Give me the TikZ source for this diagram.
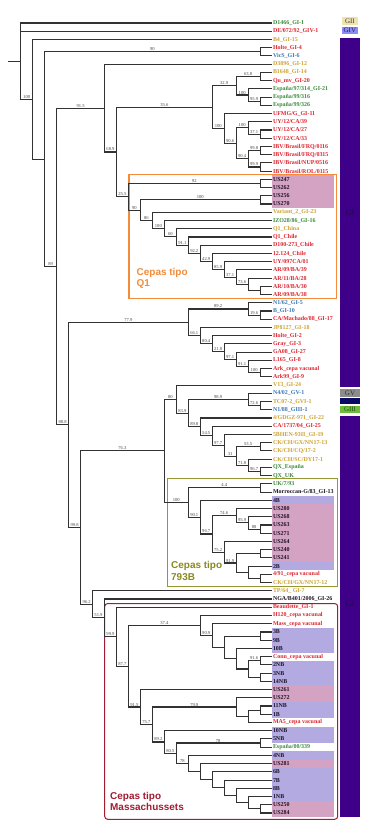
\documentclass[tikz,border=0pt]{standalone}
\usepackage{fontspec}
\setmainfont{Liberation Serif}
\newfontfamily\sansfam{Liberation Sans}
\usetikzlibrary{calc}
\definecolor{cred}{RGB}{222,36,46}
\definecolor{cgreen}{RGB}{58,138,58}
\definecolor{cyel}{RGB}{204,162,48}
\definecolor{cblue}{RGB}{58,118,182}
\definecolor{cblk}{RGB}{28,20,38}
\definecolor{pinkhl}{RGB}{212,162,194}
\definecolor{lavhl}{RGB}{178,170,224}
\definecolor{purplebar}{RGB}{62,0,136}
\definecolor{corange}{RGB}{242,140,58}
\definecolor{colive}{RGB}{150,150,50}
\definecolor{colivetxt}{RGB}{138,136,30}
\definecolor{cmass}{RGB}{162,28,50}
\definecolor{brcol}{RGB}{50,50,50}
\definecolor{bscol}{RGB}{70,70,70}
\definecolor{giibg}{RGB}{238,228,178}
\definecolor{givbg}{RGB}{140,140,240}
\definecolor{gvbg}{RGB}{140,140,140}
\definecolor{gvibg}{RGB}{10,10,100}
\definecolor{giiibg}{RGB}{110,190,60}
\definecolor{gitxt}{RGB}{32,10,72}
\tikzset{
  br/.style={draw=brcol,line width=1.1bp},
  bsl/.style={pos=.75,anchor=south,inner sep=0.4pt,text=bscol,font=\fontsize{4.6}{5}\selectfont},
  lab/.style={anchor=west,inner sep=0pt,font=\bfseries\fontsize{6}{7}\selectfont},
  cepas/.style={anchor=west,align=left,inner sep=0pt,font=\sansfam\bfseries\fontsize{10}{11.5}\selectfont},
  gbox/.style={inner sep=0pt,font=\fontsize{7}{7}\selectfont}
}
\newcounter{bsc}
\newcommand\inode[6]{%
  \coordinate (tmp) at ($(#3)!.5!(#5)$);
  \coordinate (#1) at (X#2 |- tmp);
  \stepcounter{bsc}%
  \draw[br] (#1) |- node[bsl] (b\arabic{bsc}) {#4} (#3);
  \stepcounter{bsc}%
  \draw[br] (#1) |- node[bsl] (b\arabic{bsc}) {#6} (#5);
}
\newcommand\leaf[3]{%
  \coordinate (L#1) at (272,{23+8.229*(#1-1)});
  \node[lab,text=#2] (T#1) at (272.8,{23+8.229*(#1-1)}) {#3};
}
\newcommand\hl[3]{\fill[#1] (271.7,{23+8.229*(#2-1)-4.115}) rectangle (334.3,{23+8.229*(#3-1)+4.115});}
\begin{document}
\begin{tikzpicture}[x=1bp,y=-1bp]
\useasboundingbox (0,0) rectangle (380,837);
\fill[white] (0,0) rectangle (380,837);
% highlights
\hl{pinkhl}{20}{23}
\hl{lavhl}{59}{59}
\hl{pinkhl}{60}{66}
\hl{lavhl}{67}{67}
\hl{lavhl}{75}{77}
\hl{lavhl}{79}{81}
\hl{pinkhl}{82}{83}
\hl{lavhl}{84}{85}
\hl{lavhl}{87}{88}
\hl{lavhl}{90}{90}
\hl{pinkhl}{91}{91}
\hl{lavhl}{92}{95}
\hl{pinkhl}{96}{97}
% clade boxes
\draw[corange,line width=1.1bp] (129,174.3) rectangle (336.7,298.3);
\draw[colive,line width=1bp] (167.3,478.3) rectangle (337.7,586.7);
\draw[cmass,line width=1bp,rounded corners=3bp] (104.7,603.5) rectangle (337.7,819.3);
% level positions
\foreach \k in {0,...,20} {\coordinate (X\k) at ({20.7+11.97*\k},0);}
% leaves
\leaf{1}{cgreen}{D1466\_GI-1}
\leaf{2}{cred}{DE/072/92\_GIV-1}
\leaf{3}{cyel}{B4\_GI-15}
\leaf{4}{cred}{Holte\_GI-4}
\leaf{5}{cblue}{VicS\_GI-6}
\leaf{6}{cyel}{D3896\_GI-12}
\leaf{7}{cyel}{B1648\_GI-14}
\leaf{8}{cred}{Qu\_mv\_GI-20}
\leaf{9}{cgreen}{España/97/314\_GI-21}
\leaf{10}{cgreen}{España/99/316}
\leaf{11}{cgreen}{España/99/326}
\leaf{12}{cred}{UFMG/G\_GI-11}
\leaf{13}{cred}{UY/12/CA/39}
\leaf{14}{cred}{UY/12/CA/27}
\leaf{15}{cred}{UY/12/CA/33}
\leaf{16}{cred}{IBV/Brasil/FRQ/0116}
\leaf{17}{cred}{IBV/Brasil/FRQ/0315}
\leaf{18}{cred}{IBV/Brasil/NUP/0516}
\leaf{19}{cred}{IBV/Brasil/ROL/0115}
\leaf{20}{cblk}{US247}
\leaf{21}{cblk}{US262}
\leaf{22}{cblk}{US256}
\leaf{23}{cblk}{US270}
\leaf{24}{cyel}{Variant\_2\_GI-23}
\leaf{25}{cgreen}{IZO28/86\_GI-16}
\leaf{26}{cyel}{Q1\_China}
\leaf{27}{cred}{Q1\_Chile}
\leaf{28}{cred}{D100-273\_Chile}
\leaf{29}{cred}{12.124\_Chile}
\leaf{30}{cred}{UY/097CA/01}
\leaf{31}{cred}{AR/09/BA/39}
\leaf{32}{cred}{AR/11/BA/28}
\leaf{33}{cred}{AR/10/BA/30}
\leaf{34}{cred}{AR/09/BA/38}
\leaf{35}{cblue}{N1/62\_GI-5}
\leaf{36}{cblue}{B\_GI-10}
\leaf{37}{cred}{CA/Machado/88\_GI-17}
\leaf{38}{cyel}{JP8127\_GI-18}
\leaf{39}{cred}{Holte\_GI-2}
\leaf{40}{cred}{Gray\_GI-3}
\leaf{41}{cred}{GA08\_GI-27}
\leaf{42}{cred}{L165\_GI-8}
\leaf{43}{cred}{Ark\_cepa vacunal}
\leaf{44}{cred}{Ark99\_GI-9}
\leaf{45}{cyel}{V13\_GI-24}
\leaf{46}{cblue}{N4/02\_GV-1}
\leaf{47}{cyel}{TC07-2\_GVI-1}
\leaf{48}{cblue}{N1/88\_GIII-1}
\leaf{49}{cyel}{4/GDGZ-971\_GI-22}
\leaf{50}{cred}{CA/1737/04\_GI-25}
\leaf{51}{cyel}{5BHEN-93II\_GI-19}
\leaf{52}{cyel}{CK/CH/GX/NN17-13}
\leaf{53}{cyel}{CK/CH/CQ/17-2}
\leaf{54}{cyel}{CK/CH/SC/DY17-1}
\leaf{55}{cgreen}{QX\_España}
\leaf{56}{cgreen}{QX\_UK}
\leaf{57}{cgreen}{UK/7/93}
\leaf{58}{cblk}{Morroccan-G/83\_GI-13}
\leaf{59}{cblk}{4B}
\leaf{60}{cblk}{US280}
\leaf{61}{cblk}{US268}
\leaf{62}{cblk}{US263}
\leaf{63}{cblk}{US271}
\leaf{64}{cblk}{US264}
\leaf{65}{cblk}{US240}
\leaf{66}{cblk}{US241}
\leaf{67}{cblk}{2B}
\leaf{68}{cred}{4/91\_cepa vacunal}
\leaf{69}{cyel}{CK/CH/GX/NN17-12}
\leaf{70}{cyel}{TP/64\_ GI-7}
\leaf{71}{cblk}{NGA/B401/2006\_GI-26}
\leaf{72}{cred}{Beaudette\_GI-1}
\leaf{73}{cred}{H120\_cepa vacunal}
\leaf{74}{cred}{Mass\_cepa vacunal}
\leaf{75}{cblk}{3B}
\leaf{76}{cblk}{9B}
\leaf{77}{cblk}{10B}
\leaf{78}{cred}{Conn\_cepa vacunal}
\leaf{79}{cblk}{2NB}
\leaf{80}{cblk}{3NB}
\leaf{81}{cblk}{14NB}
\leaf{82}{cblk}{US261}
\leaf{83}{cblk}{US272}
\leaf{84}{cblk}{11NB}
\leaf{85}{cblk}{1B}
\leaf{86}{cred}{MA5\_cepa vacunal}
\leaf{87}{cblk}{10NB}
\leaf{88}{cblk}{5NB}
\leaf{89}{cgreen}{España/00/339}
\leaf{90}{cblk}{4NB}
\leaf{91}{cblk}{US281}
\leaf{92}{cblk}{6B}
\leaf{93}{cblk}{7B}
\leaf{94}{cblk}{8B}
\leaf{95}{cblk}{1NB}
\leaf{96}{cblk}{US250}
\leaf{97}{cblk}{US284}
% ---- top clade
\inode{p45}{20}{L4}{}{L5}{}
\inode{p78}{20}{L7}{}{L8}{}
\inode{p1011}{20}{L10}{}{L11}{}
\inode{nEsp}{19}{L9}{}{p1011}{95.9}
\inode{n329}{18}{p78}{63.8}{nEsp}{100}
\inode{p1415}{20}{L14}{}{L15}{}
\inode{nM}{19}{L13}{}{p1415}{37.1}
\inode{p1617}{20}{L16}{}{L17}{}
\inode{p1819}{20}{L18}{}{L19}{}
\inode{nN}{19}{p1617}{99.8}{p1819}{99.9}
\inode{nL}{18}{nM}{100}{nN}{90.4}
\inode{nK}{17}{L12}{}{nL}{90.6}
\inode{nJ}{16}{n329}{32.9}{nK}{100}
% ---- Q1 clade
\inode{p2021}{20}{L20}{}{L21}{}
\inode{p2223}{20}{L22}{}{L23}{}
\inode{p3334}{20}{L33}{}{L34}{}
\inode{n736}{19}{L32}{}{p3334}{}
\inode{n371}{18}{L31}{}{n736}{73.6}
\inode{n859}{17}{L30}{}{n371}{37.1}
\inode{n429}{16}{L29}{}{n859}{85.9}
\inode{n922}{15}{L28}{}{n429}{42.9}
\inode{n911}{14}{L27}{}{n922}{92.2}
\inode{n60}{13}{L26}{}{n911}{91.1}
\inode{nR}{12}{L25}{}{n60}{60}
\inode{nQ}{11}{L24}{}{nR}{100}
\inode{nP}{10}{p2223}{100}{nQ}{86}
\inode{nO}{9}{p2021}{92}{nP}{90}
\inode{nI}{8}{nJ}{35.6}{nO}{25.5}
\inode{nH}{7}{L6}{}{nI}{68.9}
% ---- S clade
\inode{p3637}{20}{L36}{}{L37}{}
\inode{n892}{19}{L35}{}{p3637}{19.6}
\inode{p4344}{20}{L43}{}{L44}{}
\inode{nX}{19}{L42}{}{p4344}{100}
\inode{nW}{18}{L41}{}{nX}{91.1}
\inode{nV}{17}{L40}{}{nW}{97.1}
\inode{nU}{16}{L39}{}{nV}{21.8}
\inode{nT}{15}{L38}{}{nU}{80.4}
\inode{nS}{14}{n892}{89.2}{nT}{66.1}
% ---- Z clade
\inode{p4748}{20}{L47}{}{L48}{}
\inode{nAB}{19}{L46}{}{p4748}{72.6}
\inode{p5253}{20}{L52}{}{L53}{}
\inode{p5556}{20}{L55}{}{L56}{}
\inode{nAG}{19}{L54}{}{p5556}{96.7}
\inode{nAF}{18}{p5253}{53.5}{nAG}{71.8}
\inode{nAE}{17}{L51}{}{nAF}{31}
\inode{nAD}{16}{L50}{}{nAE}{97.7}
\inode{nAC}{15}{L49}{}{nAD}{54.5}
\inode{nAA}{14}{nAB}{98.9}{nAC}{89.8}
\inode{nZ}{13}{L45}{}{nAA}{83.9}
% ---- 793B clade
\inode{p5758}{20}{L57}{}{L58}{}
\inode{p6263}{20}{L62}{}{L63}{}
\inode{nBE}{19}{L61}{}{p6263}{88}
\inode{nBD}{18}{L60}{}{nBE}{95.9}
\inode{p6566}{20}{L65}{}{L66}{}
\inode{p6869}{20}{L68}{}{L69}{}
\inode{nBH}{19}{L67}{}{p6869}{}
\inode{nBG}{18}{p6566}{}{nBH}{}
\inode{nBF}{17}{L64}{}{nBG}{91.9}
\inode{nBC}{16}{nBD}{74.6}{nBF}{75.2}
\inode{nBB}{15}{L59}{}{nBC}{96.7}
\inode{nBA}{14}{p5758}{4.4}{nBB}{90.1}
\inode{nY}{12}{nZ}{80}{nBA}{100}
% ---- Mass clade
\inode{p7576}{20}{L75}{}{L76}{}
\inode{p7879}{20}{L78}{}{L79}{}
\inode{p8081}{20}{L80}{}{L81}{}
\inode{m19a}{19}{p7879}{91.6}{p8081}{}
\inode{m18a}{18}{L77}{}{m19a}{}
\inode{m17a}{17}{p7576}{}{m18a}{}
\inode{m16a}{16}{L74}{}{m17a}{}
\inode{m374}{15}{L73}{}{m16a}{90.9}
\inode{p8485}{20}{L84}{}{L85}{}
\inode{m19b}{19}{p8485}{}{L86}{}
\inode{m799}{18}{L83}{}{m19b}{}
\inode{p8889}{20}{L88}{}{L89}{}
\inode{p9697}{20}{L96}{}{L97}{}
\inode{m19c}{19}{L95}{}{p9697}{}
\inode{m18c}{18}{L94}{}{m19c}{}
\inode{m17c}{17}{L93}{}{m18c}{}
\inode{m16c}{16}{L92}{}{m17c}{}
\inode{m15c}{15}{L91}{}{m16c}{}
\inode{m78}{14}{L90}{}{m15c}{}
\inode{m805}{13}{p8889}{78}{m78}{78}
\inode{m892}{12}{L87}{}{m805}{80.5}
\inode{m757}{11}{m799}{79.9}{m892}{89.2}
\inode{m915}{10}{L82}{}{m757}{75.7}
\inode{m877}{9}{m374}{37.4}{m915}{91.5}
\inode{m999}{8}{L72}{}{m877}{87.7}
\inode{nG}{7}{L71}{}{m999}{99.9}
\inode{nF}{6}{L70}{}{nG}{51.9}
% ---- backbone
\inode{nE}{5}{nY}{76.3}{nF}{96.2}
\inode{nD}{4}{nS}{77.9}{nE}{99.8}
\inode{nC}{3}{nH}{91.5}{nD}{88.8}
\inode{nB}{2}{p45}{90}{nC}{89}
\inode{nA}{1}{L3}{}{nB}{}
\coordinate (tmp) at ($(L1)!.5!(nA)$);
\coordinate (root) at (X0 |- tmp);
\coordinate (stub) at ($(root)+(-12.7,0)$);
\draw[br] (stub) -- (root);
\draw[br] (root) |- (L1);
\draw[br] (root) |- (L2);
\draw[br] (root) |- node[bsl] (broot) {100} (nA);
% clade captions
\node[cepas,text=corange] (cq1) at (136.5,278.4) {Cepas tipo\\Q1};
\node[cepas,text=colivetxt] (c793) at (171,571) {Cepas tipo\\793B};
\node[cepas,text=cmass] (cmassl) at (110,801.2) {Cepas tipo\\Massachussets};
% genotype bar
\fill[purplebar] (340,37.7) rectangle (360,387.3);
\fill[purplebar] (340,415.7) rectangle (360,817.3);
\node[gbox,fill=giibg,minimum width=16.3bp,minimum height=8bp,text={rgb,255:red,70;green,55;blue,40}] (gii) at (349.85,21.3) {GII};
\node[gbox,fill=givbg,minimum width=16.3bp,minimum height=7.6bp,text={rgb,255:red,35;green,25;blue,110}] (giv) at (349.85,30.5) {GIV};
\node[gbox,fill=gvbg,minimum width=20bp,minimum height=7.7bp,text={rgb,255:red,45;green,45;blue,45}] (gv) at (350,392.8) {GV};
\node[gbox,fill=gvibg,minimum width=20bp,minimum height=6bp] (gvi) at (350,401.3) {};
\node[gbox,fill=giiibg,minimum width=20bp,minimum height=7.6bp,text={rgb,255:red,40;green,80;blue,20}] (giii) at (350,409.5) {GIII};
\node[gbox,text=gitxt,font=\fontsize{8}{8}\selectfont] (gi1) at (350,213.3) {GI};
\node[gbox,text=gitxt,font=\fontsize{8}{8}\selectfont] (gi2) at (350,604.3) {GI};
\end{tikzpicture}
\end{document}
